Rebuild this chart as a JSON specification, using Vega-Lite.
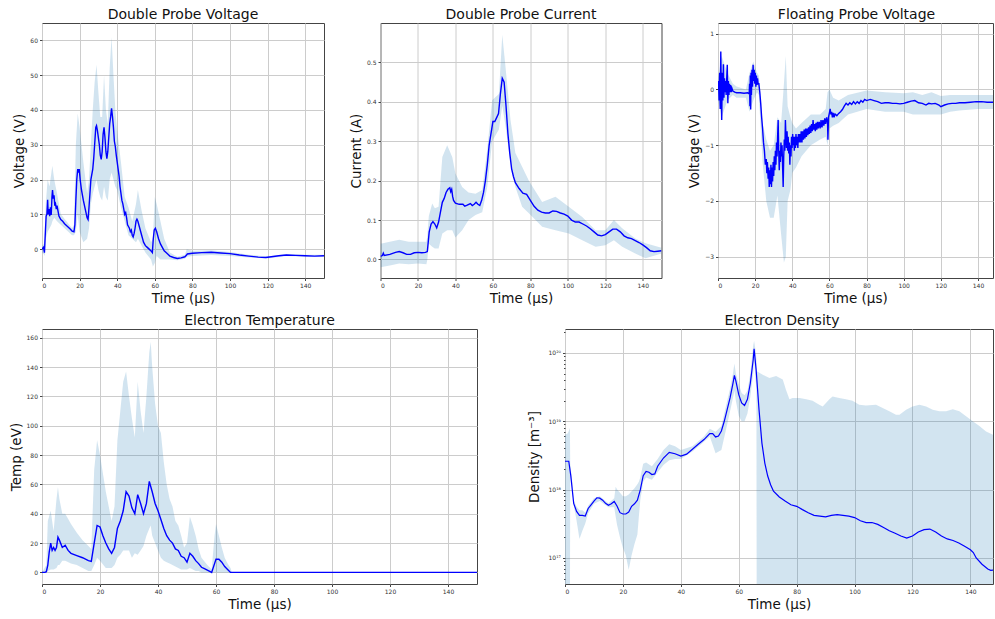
{
"$schema": "https://vega.github.io/schema/vega-lite/v6.json",
"background": "white",
"padding": {"left": 8, "top": 7, "right": 0, "bottom": 0},
"config": {
  "font": "DejaVu Sans",
  "view": {"stroke": "#444", "strokeWidth": 1},
  "axis": {"domain": false, "grid": true, "gridColor": "#cccccc", "gridWidth": 1, "tickColor": "#444", "tickSize": 2.5, "labelFontSize": 6, "labelColor": "#333", "labelPadding": 2, "labelOverlap": false, "titleFontSize": 13.5, "titleFontWeight": "normal", "titleColor": "#111", "titlePadding": 3},
  "title": {"fontSize": 14, "fontWeight": "normal", "offset": 1, "frame": "group", "color": "#111"}
},
"datasets": {
  "p1l": [{"t":0,"v":0},{"t":0.8,"v":0.5},{"t":1.3,"v":-1},{"t":1.8,"v":5},{"t":2.2,"v":9.5},{"t":2.6,"v":10},{"t":3,"v":14.2},{"t":3.3,"v":10},{"t":3.7,"v":11.5},{"t":4.1,"v":9.5},{"t":4.5,"v":12},{"t":4.9,"v":9.8},{"t":5.3,"v":15},{"t":5.6,"v":17},{"t":6,"v":14.5},{"t":6.4,"v":15.5},{"t":6.8,"v":12.5},{"t":7.2,"v":13},{"t":7.6,"v":11.5},{"t":8,"v":12.5},{"t":8.5,"v":11},{"t":9,"v":9.5},{"t":10,"v":8.5},{"t":11,"v":8},{"t":12,"v":7.3},{"t":13,"v":6.8},{"t":14,"v":6.3},{"t":15,"v":5.8},{"t":16,"v":5.2},{"t":17,"v":5},{"t":17.5,"v":7},{"t":18,"v":14},{"t":18.5,"v":20},{"t":19,"v":23},{"t":19.4,"v":22},{"t":19.8,"v":23},{"t":20.3,"v":20},{"t":21,"v":17},{"t":22,"v":14},{"t":23,"v":11.5},{"t":24,"v":9},{"t":24.5,"v":8.5},{"t":25,"v":12},{"t":25.5,"v":16},{"t":26,"v":20},{"t":27,"v":23},{"t":27.5,"v":26},{"t":28,"v":30},{"t":28.6,"v":35},{"t":29,"v":35.5},{"t":29.5,"v":34},{"t":30,"v":32},{"t":30.5,"v":30},{"t":31,"v":27},{"t":31.5,"v":25.8},{"t":32,"v":28},{"t":32.5,"v":33},{"t":33,"v":35},{"t":33.5,"v":32},{"t":34,"v":28},{"t":34.5,"v":26},{"t":35,"v":28},{"t":35.5,"v":32},{"t":36,"v":36},{"t":36.5,"v":38},{"t":37,"v":40.5},{"t":37.5,"v":38},{"t":38,"v":35},{"t":38.5,"v":31},{"t":39,"v":29.5},{"t":39.5,"v":27},{"t":40,"v":25},{"t":40.5,"v":23},{"t":41,"v":21},{"t":41.5,"v":18},{"t":42,"v":16},{"t":42.5,"v":14},{"t":43,"v":13},{"t":43.5,"v":11.5},{"t":44,"v":10},{"t":44.5,"v":10.5},{"t":45,"v":9},{"t":45.5,"v":7},{"t":46,"v":6.5},{"t":46.5,"v":6},{"t":47,"v":5},{"t":47.5,"v":5.5},{"t":48,"v":4},{"t":48.5,"v":3.5},{"t":49,"v":4.5},{"t":49.5,"v":6},{"t":50,"v":8},{"t":50.5,"v":8.6},{"t":51,"v":8},{"t":51.5,"v":7},{"t":52,"v":6},{"t":52.5,"v":5},{"t":53,"v":4},{"t":53.5,"v":3},{"t":54,"v":2},{"t":55,"v":1},{"t":56,"v":0.5},{"t":57,"v":0},{"t":58,"v":-0.5},{"t":58.7,"v":-1},{"t":59.2,"v":3},{"t":59.7,"v":5.5},{"t":60.3,"v":6},{"t":61,"v":5},{"t":61.5,"v":4},{"t":62,"v":3},{"t":63,"v":1.5},{"t":64,"v":0.5},{"t":65,"v":-0.5},{"t":66,"v":-1},{"t":67,"v":-1.5},{"t":68,"v":-2},{"t":70,"v":-2.4},{"t":72,"v":-2.7},{"t":74,"v":-2.5},{"t":76,"v":-2.2},{"t":76.8,"v":-1.8},{"t":77.3,"v":-1.4},{"t":80,"v":-1.2},{"t":85,"v":-1.0},{"t":90,"v":-0.9},{"t":95,"v":-1.1},{"t":100,"v":-1.3},{"t":105,"v":-1.7},{"t":110,"v":-2.0},{"t":115,"v":-2.3},{"t":119,"v":-2.4},{"t":122,"v":-2.2},{"t":126,"v":-1.9},{"t":130,"v":-1.7},{"t":135,"v":-1.8},{"t":140,"v":-1.9},{"t":145,"v":-2.0},{"t":150,"v":-1.9}],
  "p1b": [{"t":0,"lo":-1,"hi":1},{"t":1,"lo":-1.5,"hi":1.5},{"t":1.5,"lo":-2,"hi":3},{"t":2,"lo":3,"hi":13},{"t":3,"lo":5,"hi":20},{"t":4,"lo":6,"hi":18},{"t":5,"lo":7,"hi":22},{"t":5.5,"lo":8,"hi":24},{"t":6.5,"lo":9,"hi":20},{"t":8,"lo":8,"hi":16},{"t":10,"lo":7,"hi":10},{"t":13,"lo":5.5,"hi":8},{"t":16,"lo":4,"hi":6},{"t":17,"lo":4,"hi":7},{"t":18,"lo":5,"hi":30},{"t":19,"lo":10,"hi":39},{"t":20,"lo":5,"hi":35},{"t":22,"lo":2,"hi":25},{"t":24,"lo":3,"hi":16},{"t":25,"lo":6,"hi":20},{"t":26,"lo":13,"hi":30},{"t":27,"lo":16,"hi":40},{"t":28,"lo":18,"hi":48},{"t":29,"lo":20,"hi":53},{"t":30,"lo":17,"hi":45},{"t":31,"lo":15,"hi":38},{"t":32,"lo":14,"hi":38},{"t":33,"lo":18,"hi":50},{"t":34,"lo":15,"hi":40},{"t":35,"lo":14,"hi":36},{"t":36,"lo":20,"hi":52},{"t":37,"lo":22,"hi":61},{"t":38,"lo":20,"hi":50},{"t":39,"lo":18,"hi":40},{"t":40,"lo":17,"hi":34},{"t":42,"lo":12,"hi":25},{"t":44,"lo":8,"hi":15},{"t":46,"lo":4,"hi":12},{"t":48,"lo":3,"hi":8},{"t":50,"lo":2,"hi":13},{"t":51,"lo":3,"hi":17},{"t":53,"lo":1,"hi":11},{"t":55,"lo":-1,"hi":6},{"t":58,"lo":-3,"hi":2},{"t":59,"lo":-5,"hi":3},{"t":60,"lo":-4,"hi":15},{"t":61,"lo":-2,"hi":13},{"t":63,"lo":-3,"hi":8},{"t":65,"lo":-3,"hi":3},{"t":68,"lo":-3,"hi":-1},{"t":72,"lo":-3.2,"hi":-2.2},{"t":76,"lo":-2.8,"hi":-1.6},{"t":77,"lo":-2.2,"hi":0},{"t":80,"lo":-2,"hi":-0.5},{"t":90,"lo":-1.7,"hi":-0.3},{"t":100,"lo":-2,"hi":-0.8},{"t":110,"lo":-2.4,"hi":-1.6},{"t":120,"lo":-2.7,"hi":-2.1},{"t":130,"lo":-2,"hi":-1.4},{"t":140,"lo":-2.2,"hi":-1.6},{"t":150,"lo":-2.2,"hi":-1.6}],
  "p2l": [{"t":0,"v":0.008},{"t":1,"v":0.01},{"t":1.5,"v":0.016},{"t":2,"v":0.01},{"t":5,"v":0.013},{"t":8,"v":0.018},{"t":10,"v":0.02},{"t":12,"v":0.017},{"t":14,"v":0.013},{"t":16,"v":0.013},{"t":18,"v":0.017},{"t":20,"v":0.018},{"t":22,"v":0.017},{"t":24,"v":0.018},{"t":25,"v":0.02},{"t":26,"v":0.07},{"t":27,"v":0.09},{"t":28,"v":0.096},{"t":29,"v":0.09},{"t":30,"v":0.08},{"t":31,"v":0.095},{"t":32,"v":0.12},{"t":33,"v":0.145},{"t":34,"v":0.155},{"t":35,"v":0.17},{"t":36,"v":0.178},{"t":37,"v":0.182},{"t":37.5,"v":0.172},{"t":38,"v":0.178},{"t":38.5,"v":0.16},{"t":39,"v":0.15},{"t":40,"v":0.143},{"t":42,"v":0.14},{"t":44,"v":0.14},{"t":45,"v":0.135},{"t":46,"v":0.137},{"t":48,"v":0.142},{"t":49,"v":0.137},{"t":50,"v":0.14},{"t":51,"v":0.145},{"t":52,"v":0.14},{"t":53,"v":0.137},{"t":54,"v":0.15},{"t":55,"v":0.17},{"t":56,"v":0.2},{"t":57,"v":0.24},{"t":58,"v":0.29},{"t":59,"v":0.32},{"t":60,"v":0.35},{"t":61,"v":0.35},{"t":62,"v":0.36},{"t":63,"v":0.37},{"t":64,"v":0.42},{"t":65,"v":0.46},{"t":66,"v":0.45},{"t":67,"v":0.39},{"t":68,"v":0.32},{"t":69,"v":0.27},{"t":70,"v":0.23},{"t":71,"v":0.21},{"t":72,"v":0.195},{"t":74,"v":0.18},{"t":76,"v":0.168},{"t":78,"v":0.165},{"t":80,"v":0.15},{"t":82,"v":0.135},{"t":84,"v":0.125},{"t":86,"v":0.12},{"t":88,"v":0.118},{"t":90,"v":0.118},{"t":92,"v":0.123},{"t":94,"v":0.122},{"t":96,"v":0.118},{"t":98,"v":0.115},{"t":100,"v":0.11},{"t":102,"v":0.1},{"t":104,"v":0.095},{"t":106,"v":0.095},{"t":108,"v":0.09},{"t":110,"v":0.085},{"t":112,"v":0.078},{"t":114,"v":0.07},{"t":116,"v":0.062},{"t":118,"v":0.06},{"t":120,"v":0.063},{"t":122,"v":0.07},{"t":124,"v":0.077},{"t":126,"v":0.077},{"t":128,"v":0.07},{"t":130,"v":0.06},{"t":132,"v":0.055},{"t":134,"v":0.053},{"t":136,"v":0.048},{"t":138,"v":0.043},{"t":140,"v":0.037},{"t":142,"v":0.03},{"t":144,"v":0.022},{"t":146,"v":0.02},{"t":148,"v":0.021},{"t":150,"v":0.022}],
  "p2b": [{"t":0,"lo":-0.02,"hi":0.04},{"t":5,"lo":-0.015,"hi":0.045},{"t":10,"lo":-0.01,"hi":0.05},{"t":15,"lo":-0.012,"hi":0.045},{"t":20,"lo":-0.01,"hi":0.045},{"t":24.5,"lo":-0.012,"hi":0.045},{"t":25,"lo":0.0,"hi":0.06},{"t":25.8,"lo":0.04,"hi":0.11},{"t":27.6,"lo":0.032,"hi":0.142},{"t":29,"lo":0.028,"hi":0.13},{"t":31,"lo":0.028,"hi":0.134},{"t":33,"lo":0.066,"hi":0.26},{"t":35.6,"lo":0.074,"hi":0.29},{"t":38.3,"lo":0.074,"hi":0.26},{"t":40,"lo":0.056,"hi":0.218},{"t":43.6,"lo":0.074,"hi":0.184},{"t":47,"lo":0.1,"hi":0.17},{"t":50.7,"lo":0.113,"hi":0.167},{"t":54.3,"lo":0.12,"hi":0.176},{"t":57,"lo":0.184,"hi":0.28},{"t":59.6,"lo":0.3,"hi":0.404},{"t":63.2,"lo":0.33,"hi":0.42},{"t":65,"lo":0.39,"hi":0.57},{"t":66.7,"lo":0.34,"hi":0.49},{"t":69.4,"lo":0.244,"hi":0.354},{"t":72,"lo":0.184,"hi":0.27},{"t":75.6,"lo":0.134,"hi":0.235},{"t":79.2,"lo":0.117,"hi":0.2},{"t":86.3,"lo":0.083,"hi":0.146},{"t":93.4,"lo":0.074,"hi":0.159},{"t":100.5,"lo":0.066,"hi":0.134},{"t":107.7,"lo":0.049,"hi":0.108},{"t":114.8,"lo":0.032,"hi":0.074},{"t":120,"lo":0.036,"hi":0.074},{"t":124.6,"lo":0.049,"hi":0.1},{"t":129,"lo":0.032,"hi":0.079},{"t":136,"lo":0.015,"hi":0.053},{"t":141.5,"lo":0.003,"hi":0.041},{"t":150,"lo":0.015,"hi":0.03}],
  "p3l": [{"t":0,"v":0},{"t":0.3,"v":0.15},{"t":0.6,"v":-0.2},{"t":0.9,"v":0.3},{"t":1.2,"v":-0.35},{"t":1.5,"v":0.68},{"t":1.8,"v":-0.1},{"t":2.0,"v":-0.55},{"t":2.3,"v":0.3},{"t":2.6,"v":-0.2},{"t":2.9,"v":0.45},{"t":3.2,"v":-0.15},{"t":3.5,"v":0.2},{"t":3.8,"v":-0.05},{"t":4.1,"v":0.15},{"t":4.4,"v":-0.1},{"t":4.7,"v":0.2},{"t":5.0,"v":0.44},{"t":5.3,"v":-0.25},{"t":5.6,"v":0.15},{"t":5.9,"v":-0.1},{"t":6.2,"v":0.1},{"t":6.5,"v":-0.05},{"t":6.8,"v":0.08},{"t":7.1,"v":-0.05},{"t":7.5,"v":0.02},{"t":8,"v":-0.03},{"t":9,"v":-0.05},{"t":10,"v":-0.06},{"t":12,"v":-0.06},{"t":14,"v":-0.07},{"t":16,"v":-0.06},{"t":16.8,"v":-0.08},{"t":17.0,"v":0.1},{"t":17.2,"v":-0.3},{"t":17.4,"v":0.25},{"t":17.6,"v":-0.36},{"t":17.8,"v":0.3},{"t":18.0,"v":-0.1},{"t":18.3,"v":0.35},{"t":18.6,"v":0.05},{"t":18.9,"v":0.44},{"t":19.2,"v":0.15},{"t":19.5,"v":0.35},{"t":19.8,"v":0.1},{"t":20.1,"v":0.3},{"t":20.4,"v":0.05},{"t":20.7,"v":0.25},{"t":21.0,"v":0.08},{"t":21.3,"v":0.2},{"t":21.6,"v":0.1},{"t":22.0,"v":0.1},{"t":22.5,"v":-0.05},{"t":23,"v":-0.25},{"t":23.5,"v":-0.5},{"t":24,"v":-0.7},{"t":24.5,"v":-0.95},{"t":25,"v":-1.1},{"t":25.5,"v":-1.35},{"t":26,"v":-1.25},{"t":26.3,"v":-1.5},{"t":26.6,"v":-1.3},{"t":27,"v":-1.6},{"t":27.3,"v":-1.4},{"t":27.6,"v":-1.75},{"t":27.9,"v":-1.45},{"t":28.2,"v":-1.7},{"t":28.5,"v":-1.35},{"t":28.8,"v":-1.75},{"t":29.1,"v":-1.4},{"t":29.4,"v":-1.65},{"t":29.7,"v":-1.3},{"t":30.0,"v":-1.55},{"t":30.3,"v":-1.2},{"t":30.6,"v":-1.45},{"t":30.9,"v":-1.1},{"t":31.2,"v":-1.35},{"t":31.5,"v":-0.95},{"t":31.8,"v":-1.2},{"t":32.1,"v":-0.85},{"t":32.4,"v":-0.55},{"t":32.7,"v":-1.1},{"t":33.0,"v":-1.45},{"t":33.3,"v":-1.1},{"t":33.6,"v":-1.3},{"t":33.9,"v":-0.95},{"t":34.2,"v":-1.2},{"t":34.5,"v":-1.0},{"t":34.8,"v":-1.4},{"t":35.1,"v":-1.75},{"t":35.4,"v":-1.2},{"t":35.7,"v":-0.9},{"t":36.0,"v":-1.1},{"t":36.3,"v":-0.55},{"t":36.6,"v":-0.85},{"t":36.9,"v":-1.05},{"t":37.2,"v":-0.75},{"t":37.5,"v":-1.1},{"t":37.8,"v":-0.85},{"t":38.1,"v":-1.15},{"t":38.4,"v":-0.95},{"t":38.7,"v":-1.35},{"t":39.0,"v":-1.0},{"t":39.3,"v":-1.2},{"t":39.6,"v":-0.85},{"t":39.9,"v":-1.05},{"t":40.2,"v":-0.8},{"t":40.5,"v":-1.0},{"t":40.8,"v":-0.85},{"t":41.1,"v":-1.1},{"t":41.4,"v":-0.85},{"t":41.7,"v":-1.05},{"t":42,"v":-0.8},{"t":42.3,"v":-1.0},{"t":42.6,"v":-0.85},{"t":43,"v":-1.05},{"t":43.3,"v":-0.8},{"t":43.6,"v":-0.95},{"t":44,"v":-0.8},{"t":44.4,"v":-0.95},{"t":44.8,"v":-0.75},{"t":45.2,"v":-0.95},{"t":45.6,"v":-0.75},{"t":46,"v":-0.9},{"t":46.4,"v":-0.72},{"t":46.8,"v":-0.88},{"t":47.2,"v":-0.7},{"t":47.6,"v":-0.85},{"t":48,"v":-0.7},{"t":48.4,"v":-0.82},{"t":48.8,"v":-0.68},{"t":49.2,"v":-0.8},{"t":49.6,"v":-0.65},{"t":50,"v":-0.78},{"t":50.4,"v":-0.62},{"t":50.8,"v":-0.75},{"t":51.2,"v":-0.55},{"t":51.6,"v":-0.72},{"t":52,"v":-0.62},{"t":52.4,"v":-0.75},{"t":52.8,"v":-0.6},{"t":53.2,"v":-0.72},{"t":53.6,"v":-0.58},{"t":54,"v":-0.7},{"t":54.5,"v":-0.58},{"t":55,"v":-0.7},{"t":55.5,"v":-0.55},{"t":56,"v":-0.68},{"t":56.5,"v":-0.55},{"t":57,"v":-0.65},{"t":57.5,"v":-0.52},{"t":58,"v":-0.62},{"t":58.5,"v":-0.5},{"t":59,"v":-0.6},{"t":59.2,"v":-0.9},{"t":59.5,"v":-0.5},{"t":60,"v":-0.42},{"t":60.4,"v":-0.35},{"t":60.8,"v":-0.45},{"t":61.2,"v":-0.4},{"t":61.6,"v":-0.5},{"t":62,"v":-0.42},{"t":62.5,"v":-0.5},{"t":63,"v":-0.44},{"t":64,"v":-0.47},{"t":65,"v":-0.43},{"t":66,"v":-0.4},{"t":67,"v":-0.36},{"t":68,"v":-0.3},{"t":69,"v":-0.25},{"t":70,"v":-0.28},{"t":71,"v":-0.24},{"t":72,"v":-0.27},{"t":73,"v":-0.22},{"t":74,"v":-0.26},{"t":75,"v":-0.22},{"t":76,"v":-0.25},{"t":77,"v":-0.2},{"t":78,"v":-0.23},{"t":79,"v":-0.18},{"t":80,"v":-0.2},{"t":82,"v":-0.18},{"t":84,"v":-0.2},{"t":86,"v":-0.22},{"t":88,"v":-0.25},{"t":90,"v":-0.24},{"t":92,"v":-0.24},{"t":94,"v":-0.25},{"t":96,"v":-0.25},{"t":98,"v":-0.26},{"t":100,"v":-0.25},{"t":102,"v":-0.23},{"t":104,"v":-0.21},{"t":106,"v":-0.2},{"t":108,"v":-0.24},{"t":110,"v":-0.25},{"t":112,"v":-0.28},{"t":113.5,"v":-0.25},{"t":115,"v":-0.26},{"t":117,"v":-0.25},{"t":119,"v":-0.28},{"t":120,"v":-0.31},{"t":122,"v":-0.28},{"t":124,"v":-0.26},{"t":126,"v":-0.25},{"t":128,"v":-0.25},{"t":130,"v":-0.24},{"t":133,"v":-0.24},{"t":136,"v":-0.23},{"t":139,"v":-0.22},{"t":142,"v":-0.22},{"t":145,"v":-0.23},{"t":148.6,"v":-0.23}],
  "p3b": [{"t":0,"lo":-0.2,"hi":0.2},{"t":2,"lo":-0.5,"hi":0.6},{"t":5,"lo":-0.2,"hi":0.3},{"t":8,"lo":-0.1,"hi":0.1},{"t":10,"lo":-0.15,"hi":0.05},{"t":15,"lo":-0.15,"hi":0.0},{"t":17,"lo":-0.4,"hi":0.3},{"t":19,"lo":-0.2,"hi":0.5},{"t":21,"lo":-0.05,"hi":0.3},{"t":22,"lo":-0.1,"hi":0.25},{"t":24,"lo":-1.3,"hi":-0.6},{"t":26,"lo":-2.0,"hi":-0.9},{"t":28,"lo":-2.3,"hi":-1.1},{"t":30,"lo":-2.3,"hi":-1.0},{"t":32,"lo":-1.9,"hi":-0.5},{"t":34,"lo":-2.6,"hi":-0.6},{"t":35.5,"lo":-3.1,"hi":0.1},{"t":36.5,"lo":-3.0,"hi":0.6},{"t":37.5,"lo":-2.0,"hi":-0.3},{"t":39,"lo":-1.8,"hi":-0.5},{"t":40,"lo":-1.5,"hi":-0.6},{"t":42,"lo":-1.4,"hi":-0.7},{"t":45,"lo":-1.2,"hi":-0.6},{"t":50,"lo":-1.0,"hi":-0.45},{"t":55,"lo":-0.9,"hi":-0.45},{"t":58,"lo":-0.85,"hi":-0.35},{"t":59,"lo":-1.0,"hi":-0.05},{"t":60,"lo":-0.7,"hi":0.0},{"t":62,"lo":-0.65,"hi":-0.15},{"t":65,"lo":-0.6,"hi":-0.2},{"t":70,"lo":-0.45,"hi":-0.1},{"t":80,"lo":-0.35,"hi":-0.02},{"t":90,"lo":-0.4,"hi":-0.05},{"t":100,"lo":-0.4,"hi":-0.07},{"t":105,"lo":-0.45,"hi":-0.05},{"t":110,"lo":-0.45,"hi":-0.1},{"t":115,"lo":-0.45,"hi":-0.05},{"t":120,"lo":-0.45,"hi":-0.12},{"t":125,"lo":-0.4,"hi":-0.1},{"t":130,"lo":-0.38,"hi":-0.1},{"t":140,"lo":-0.35,"hi":-0.1},{"t":148.6,"lo":-0.35,"hi":-0.1}],
  "p4l": [{"t":0,"v":0},{"t":1,"v":0},{"t":1.5,"v":0.5},{"t":2,"v":5},{"t":2.5,"v":14},{"t":3,"v":20},{"t":3.5,"v":15},{"t":4,"v":17},{"t":4.5,"v":15},{"t":5,"v":17},{"t":5.5,"v":24},{"t":6,"v":22},{"t":7,"v":17},{"t":8,"v":18.5},{"t":9,"v":15},{"t":10,"v":13},{"t":12,"v":11.5},{"t":14,"v":10},{"t":16,"v":8},{"t":17,"v":7.5},{"t":18,"v":20},{"t":19,"v":32},{"t":20,"v":31},{"t":21,"v":25},{"t":22,"v":20},{"t":23,"v":16},{"t":24,"v":13},{"t":25,"v":17},{"t":26,"v":30},{"t":27,"v":35},{"t":28,"v":42},{"t":29,"v":55},{"t":30,"v":52},{"t":31,"v":44},{"t":32,"v":40},{"t":33,"v":53},{"t":34,"v":47},{"t":35,"v":40},{"t":36,"v":47},{"t":37,"v":62},{"t":38,"v":55},{"t":39,"v":47},{"t":40,"v":42},{"t":41,"v":36},{"t":42,"v":30},{"t":43,"v":25},{"t":44,"v":22},{"t":45,"v":20},{"t":46,"v":16},{"t":47,"v":15},{"t":48,"v":11},{"t":49,"v":10},{"t":50,"v":7},{"t":51,"v":13},{"t":52,"v":11},{"t":53,"v":8},{"t":54,"v":6},{"t":55,"v":3.5},{"t":56,"v":2.5},{"t":57,"v":1.5},{"t":58,"v":0.5},{"t":58.5,"v":0},{"t":59.5,"v":6},{"t":60,"v":9},{"t":61,"v":9},{"t":62,"v":7},{"t":63,"v":4},{"t":64,"v":2},{"t":65,"v":0},{"t":150,"v":0}],
  "p4b": [{"t":0,"lo":0,"hi":0},{"t":1.5,"lo":0,"hi":5},{"t":2,"lo":1,"hi":35},{"t":3,"lo":2,"hi":42},{"t":4,"lo":2,"hi":28},{"t":5,"lo":3,"hi":50},{"t":5.5,"lo":5,"hi":58},{"t":6,"lo":5,"hi":50},{"t":7,"lo":8,"hi":40},{"t":8,"lo":8,"hi":40},{"t":10,"lo":6,"hi":33},{"t":12,"lo":5,"hi":27},{"t":14,"lo":3,"hi":22},{"t":16,"lo":1,"hi":18},{"t":17,"lo":1,"hi":16},{"t":18,"lo":5,"hi":70},{"t":19,"lo":10,"hi":90},{"t":20,"lo":8,"hi":80},{"t":22,"lo":3,"hi":55},{"t":24,"lo":3,"hi":35},{"t":25,"lo":5,"hi":45},{"t":26,"lo":10,"hi":90},{"t":27,"lo":12,"hi":110},{"t":28,"lo":15,"hi":130},{"t":29,"lo":15,"hi":137},{"t":30,"lo":15,"hi":120},{"t":31,"lo":10,"hi":105},{"t":32,"lo":13,"hi":92},{"t":33,"lo":12,"hi":130},{"t":34,"lo":15,"hi":110},{"t":35,"lo":18,"hi":95},{"t":36,"lo":25,"hi":120},{"t":37,"lo":30,"hi":150},{"t":37.5,"lo":32,"hi":157},{"t":38,"lo":25,"hi":140},{"t":39,"lo":20,"hi":115},{"t":40,"lo":15,"hi":100},{"t":41,"lo":10,"hi":95},{"t":42,"lo":8,"hi":75},{"t":43,"lo":7,"hi":60},{"t":44,"lo":6,"hi":50},{"t":45,"lo":5,"hi":45},{"t":46,"lo":4,"hi":35},{"t":47,"lo":3,"hi":32},{"t":48,"lo":2,"hi":25},{"t":49,"lo":2,"hi":17},{"t":50,"lo":2,"hi":20},{"t":51,"lo":3,"hi":38},{"t":52,"lo":2,"hi":32},{"t":53,"lo":1,"hi":25},{"t":54,"lo":1,"hi":16},{"t":55,"lo":0,"hi":10},{"t":57,"lo":0,"hi":5},{"t":58.5,"lo":0,"hi":2},{"t":59.5,"lo":0,"hi":25},{"t":60,"lo":0,"hi":33},{"t":61,"lo":0,"hi":25},{"t":62,"lo":0,"hi":17},{"t":63,"lo":0,"hi":10},{"t":64,"lo":0,"hi":6},{"t":65,"lo":0,"hi":3},{"t":65.5,"lo":0,"hi":0},{"t":150,"lo":0,"hi":0}],
  "p5l": [{"t":0,"v":2.6e18},{"t":1.3,"v":2.6e18},{"t":2,"v":1.6e18},{"t":3,"v":6.3e17},{"t":4,"v":4.8e17},{"t":5,"v":4.2e17},{"t":6,"v":4.2e17},{"t":7,"v":4.1e17},{"t":8,"v":5.3e17},{"t":9,"v":6.0e17},{"t":10,"v":6.8e17},{"t":11,"v":7.6e17},{"t":12,"v":7.5e17},{"t":13,"v":7e17},{"t":14,"v":6.3e17},{"t":15,"v":5.9e17},{"t":16,"v":6.2e17},{"t":17,"v":6.7e17},{"t":18,"v":5.7e17},{"t":19,"v":4.6e17},{"t":20,"v":4.4e17},{"t":21,"v":4.4e17},{"t":22,"v":4.7e17},{"t":23,"v":5.7e17},{"t":24,"v":6.2e17},{"t":25,"v":7e17},{"t":26,"v":9.9e17},{"t":27,"v":1.6e18},{"t":28,"v":1.85e18},{"t":29,"v":1.8e18},{"t":30,"v":1.66e18},{"t":31,"v":1.7e18},{"t":32,"v":2.2e18},{"t":34,"v":2.9e18},{"t":36,"v":3.5e18},{"t":38,"v":3.35e18},{"t":40,"v":3.1e18},{"t":42,"v":3.3e18},{"t":44,"v":3.9e18},{"t":46,"v":4.6e18},{"t":48,"v":5.4e18},{"t":50,"v":6.6e18},{"t":51,"v":6.6e18},{"t":52,"v":5.9e18},{"t":53,"v":6.1e18},{"t":54,"v":7.2e18},{"t":55,"v":1e19},{"t":56,"v":1.48e19},{"t":57,"v":2.2e19},{"t":58,"v":3.6e19},{"t":58.5,"v":4.7e19},{"t":59,"v":3.9e19},{"t":60,"v":2.45e19},{"t":61,"v":1.85e19},{"t":62,"v":1.7e19},{"t":63,"v":2.1e19},{"t":64,"v":3.6e19},{"t":65,"v":8e19},{"t":65.3,"v":1.15e20},{"t":66,"v":5.7e19},{"t":67,"v":1.48e19},{"t":68,"v":4.8e18},{"t":69,"v":2.45e18},{"t":70,"v":1.58e18},{"t":71,"v":1.18e18},{"t":72,"v":9.5e17},{"t":74,"v":7.8e17},{"t":76,"v":6.8e17},{"t":78,"v":6e17},{"t":80,"v":5.7e17},{"t":82,"v":5.1e17},{"t":84,"v":4.6e17},{"t":86,"v":4.2e17},{"t":88,"v":4.1e17},{"t":90,"v":4.0e17},{"t":92,"v":4.2e17},{"t":94,"v":4.3e17},{"t":96,"v":4.2e17},{"t":98,"v":4.1e17},{"t":100,"v":3.9e17},{"t":102,"v":3.5e17},{"t":104,"v":3.3e17},{"t":106,"v":3.3e17},{"t":108,"v":3.1e17},{"t":110,"v":2.8e17},{"t":112,"v":2.5e17},{"t":114,"v":2.3e17},{"t":116,"v":2.1e17},{"t":118,"v":1.95e17},{"t":120,"v":2.1e17},{"t":122,"v":2.4e17},{"t":124,"v":2.6e17},{"t":126,"v":2.65e17},{"t":128,"v":2.4e17},{"t":130,"v":2.1e17},{"t":132,"v":1.9e17},{"t":134,"v":1.8e17},{"t":136,"v":1.66e17},{"t":138,"v":1.48e17},{"t":140,"v":1.32e17},{"t":141,"v":1.2e17},{"t":142,"v":1e17},{"t":144,"v":8.1e16},{"t":146,"v":6.9e16},{"t":147,"v":6.6e16},{"t":148.5,"v":6.7e16}],
  "p5b": [{"t":0,"lo":1e16,"hi":6.3e18},{"t":1,"lo":1e16,"hi":6.7e18},{"t":1.7,"lo":1e16,"hi":8e18},{"t":1.8,"lo":1.6e18,"hi":2.4e18},{"t":2.5,"lo":1e18,"hi":1.3e18},{"t":3,"lo":6e17,"hi":7e17},{"t":4,"lo":3.5e17,"hi":5.6e17},{"t":5,"lo":1.9e17,"hi":5e17},{"t":6,"lo":2.5e17,"hi":5e17},{"t":7,"lo":3.2e17,"hi":4.6e17},{"t":8,"lo":4.5e17,"hi":5.8e17},{"t":10,"lo":6.2e17,"hi":7.5e17},{"t":12,"lo":6.8e17,"hi":8e17},{"t":15,"lo":5.5e17,"hi":6.3e17},{"t":17,"lo":5.5e17,"hi":7.5e17},{"t":17.5,"lo":4e17,"hi":1.1e18},{"t":18,"lo":3e17,"hi":1.0e18},{"t":19,"lo":2e17,"hi":9e17},{"t":20,"lo":1.4e17,"hi":8e17},{"t":21,"lo":1.1e17,"hi":8e17},{"t":22,"lo":6.7e16,"hi":8.5e17},{"t":23,"lo":1.1e17,"hi":9.5e17},{"t":24,"lo":1.6e17,"hi":1.05e18},{"t":25,"lo":2.2e17,"hi":1.2e18},{"t":25.5,"lo":4e17,"hi":1.3e18},{"t":26,"lo":7e17,"hi":1.5e18},{"t":27,"lo":1.3e18,"hi":2.4e18},{"t":28,"lo":1.5e18,"hi":2.5e18},{"t":30,"lo":1.4e18,"hi":2.2e18},{"t":32,"lo":1.8e18,"hi":2.8e18},{"t":34,"lo":2.3e18,"hi":3.8e18},{"t":36,"lo":2.7e18,"hi":4.6e18},{"t":38,"lo":2.8e18,"hi":4.3e18},{"t":40,"lo":2.8e18,"hi":3.8e18},{"t":44,"lo":3.6e18,"hi":4.3e18},{"t":48,"lo":5e18,"hi":6e18},{"t":50,"lo":6e18,"hi":7.8e18},{"t":52,"lo":3.4e18,"hi":7e18},{"t":54,"lo":3.8e18,"hi":8.5e18},{"t":56,"lo":9e18,"hi":2e19},{"t":57,"lo":1.4e19,"hi":3e19},{"t":58,"lo":2.2e19,"hi":5e19},{"t":58.5,"lo":2.8e19,"hi":7e19},{"t":59,"lo":2e19,"hi":5e19},{"t":60,"lo":1.2e19,"hi":3.5e19},{"t":61,"lo":1e19,"hi":2.6e19},{"t":62,"lo":1e19,"hi":2.4e19},{"t":63,"lo":1.3e19,"hi":2.8e19},{"t":64,"lo":2.3e19,"hi":5e19},{"t":65,"lo":5e19,"hi":1.3e20},{"t":65.3,"lo":8e19,"hi":1.5e20},{"t":65.8,"lo":4e19,"hi":1.1e20},{"t":66.1,"lo":3e19,"hi":8e19},{"t":66.2,"lo":1e16,"hi":5.4e19},{"t":68.3,"lo":1e16,"hi":4.8e19},{"t":70.6,"lo":1e16,"hi":4.3e19},{"t":72.9,"lo":1e16,"hi":4.6e19},{"t":75.2,"lo":1e16,"hi":4.1e19},{"t":76.3,"lo":1e16,"hi":2.9e19},{"t":77.5,"lo":1e16,"hi":2.1e19},{"t":78.6,"lo":1e16,"hi":2.2e19},{"t":81,"lo":1e16,"hi":2.2e19},{"t":83.3,"lo":1e16,"hi":2.1e19},{"t":85.5,"lo":1e16,"hi":2e19},{"t":87.8,"lo":1e16,"hi":1.75e19},{"t":89,"lo":1e16,"hi":1.65e19},{"t":91.3,"lo":1e16,"hi":2.1e19},{"t":92.4,"lo":1e16,"hi":2.3e19},{"t":94.7,"lo":1e16,"hi":2.2e19},{"t":97,"lo":1e16,"hi":2.1e19},{"t":99.3,"lo":1e16,"hi":2e19},{"t":101.6,"lo":1e16,"hi":1.75e19},{"t":103.9,"lo":1e16,"hi":1.7e19},{"t":107.4,"lo":1e16,"hi":1.75e19},{"t":109.7,"lo":1e16,"hi":1.57e19},{"t":112,"lo":1e16,"hi":1.4e19},{"t":114.3,"lo":1e16,"hi":1.25e19},{"t":115.5,"lo":1e16,"hi":1.25e19},{"t":117.8,"lo":1e16,"hi":1.48e19},{"t":120,"lo":1e16,"hi":1.65e19},{"t":122.4,"lo":1e16,"hi":1.75e19},{"t":124.7,"lo":1e16,"hi":1.65e19},{"t":127,"lo":1e16,"hi":1.48e19},{"t":129.3,"lo":1e16,"hi":1.4e19},{"t":131.6,"lo":1e16,"hi":1.4e19},{"t":133.9,"lo":1e16,"hi":1.5e19},{"t":136.2,"lo":1e16,"hi":1.4e19},{"t":138.5,"lo":1e16,"hi":1.18e19},{"t":140.8,"lo":1e16,"hi":1e19},{"t":143.1,"lo":1e16,"hi":8.5e18},{"t":145.4,"lo":1e16,"hi":7.1e18},{"t":148.3,"lo":1e16,"hi":6.2e18}]
},
"vconcat": [
  {
    "hconcat": [
      {
        "width": 282, "height": 255,
        "title": "Double Probe Voltage",
        "encoding": {"x": {"field": "t", "type": "quantitative", "title": "Time (μs)", "scale": {"domain": [0, 150], "nice": false}, "axis": {"values": [0,20,40,60,80,100,120,140], "format": "d"}}},
        "layer": [
          {"data": {"name": "p1b"}, "mark": {"type": "area", "color": "#1f77b4", "opacity": 0.2, "clip": true}, "encoding": {"y": {"field": "lo", "type": "quantitative", "title": "Voltage (V)", "scale": {"domain": [-8.3, 65], "nice": false, "zero": false}, "axis": {"values": [0,10,20,30,40,50,60], "format": "d"}}, "y2": {"field": "hi"}}},
          {"data": {"name": "p1l"}, "mark": {"type": "line", "color": "#0000ff", "strokeWidth": 1.4, "clip": true}, "encoding": {"y": {"field": "v", "type": "quantitative", "title": "Voltage (V)", "axis": {"values": [0,10,20,30,40,50,60], "format": "d"}}}}
        ]
      },
      {
        "width": 281, "height": 255,
        "title": "Double Probe Current",
        "encoding": {"x": {"field": "t", "type": "quantitative", "title": "Time (μs)", "scale": {"domain": [0, 150], "nice": false}, "axis": {"values": [0,20,40,60,80,100,120,140], "format": "d"}}},
        "layer": [
          {"data": {"name": "p2b"}, "mark": {"type": "area", "color": "#1f77b4", "opacity": 0.2, "clip": true}, "encoding": {"y": {"field": "lo", "type": "quantitative", "title": "Current (A)", "scale": {"domain": [-0.047, 0.6], "nice": false, "zero": false}, "axis": {"values": [0,0.1,0.2,0.3,0.4,0.5], "format": ".1f"}}, "y2": {"field": "hi"}}},
          {"data": {"name": "p2l"}, "mark": {"type": "line", "color": "#0000ff", "strokeWidth": 1.4, "clip": true}, "encoding": {"y": {"field": "v", "type": "quantitative", "title": "Current (A)", "axis": {"values": [0,0.1,0.2,0.3,0.4,0.5], "format": ".1f"}}}}
        ]
      },
      {
        "width": 275, "height": 255,
        "title": {"text": "Floating Probe Voltage", "dx": 1},
        "encoding": {"x": {"field": "t", "type": "quantitative", "title": "Time (μs)", "scale": {"domain": [0, 148.1], "nice": false}, "axis": {"values": [0,20,40,60,80,100,120,140], "format": "d"}}},
        "layer": [
          {"data": {"name": "p3b"}, "mark": {"type": "area", "color": "#1f77b4", "opacity": 0.2, "clip": true}, "encoding": {"y": {"field": "lo", "type": "quantitative", "title": "Voltage (V)", "scale": {"domain": [-3.38, 1.19], "nice": false, "zero": false}, "axis": {"values": [-3,-2,-1,0,1], "labelExpr": "replace(format(datum.value, 'd'), '-', '−')"}}, "y2": {"field": "hi"}}},
          {"data": {"name": "p3l"}, "mark": {"type": "line", "color": "#0000ff", "strokeWidth": 1.4, "clip": true}, "encoding": {"y": {"field": "v", "type": "quantitative", "title": "Voltage (V)", "axis": {"values": [-3,-2,-1,0,1], "labelExpr": "replace(format(datum.value, 'd'), '-', '−')"}}}}
        ]
      }
    ],
    "spacing": 56.5,
    "bounds": "flush"
  },
  {
    "hconcat": [
      {
        "width": 435, "height": 255,
        "title": "Electron Temperature",
        "encoding": {"x": {"field": "t", "type": "quantitative", "title": "Time (μs)", "scale": {"domain": [0, 150], "nice": false}, "axis": {"values": [0,20,40,60,80,100,120,140], "format": "d"}}},
        "layer": [
          {"data": {"name": "p4b"}, "mark": {"type": "area", "color": "#1f77b4", "opacity": 0.2, "clip": true}, "encoding": {"y": {"field": "lo", "type": "quantitative", "title": "Temp (eV)", "scale": {"domain": [-7.9, 165.9], "nice": false, "zero": false}, "axis": {"values": [0,20,40,60,80,100,120,140,160], "format": "d"}}, "y2": {"field": "hi"}}},
          {"data": {"name": "p4l"}, "mark": {"type": "line", "color": "#0000ff", "strokeWidth": 1.4, "clip": true}, "encoding": {"y": {"field": "v", "type": "quantitative", "title": "Temp (eV)", "axis": {"values": [0,20,40,60,80,100,120,140,160], "format": "d"}}}}
        ]
      },
      {
        "width": 428, "height": 255,
        "title": {"text": "Electron Density", "dx": 3},
        "encoding": {"x": {"field": "t", "type": "quantitative", "title": "Time (μs)", "scale": {"domain": [0, 147.8], "nice": false}, "axis": {"values": [0,20,40,60,80,100,120,140], "format": "d"}}},
        "layer": [
          {"data": {"name": "p5b"}, "mark": {"type": "area", "color": "#1f77b4", "opacity": 0.2, "clip": true}, "encoding": {"y": {"field": "lo", "type": "quantitative", "title": "Density [m⁻³]", "scale": {"type": "log", "domain": [4.16e16, 2.24e20], "nice": false}, "axis": {
            "titlePadding": 7,
            "values": [5e16,6e16,7e16,8e16,9e16,1e17,2e17,3e17,4e17,5e17,6e17,7e17,8e17,9e17,1e18,2e18,3e18,4e18,5e18,6e18,7e18,8e18,9e18,1e19,2e19,3e19,4e19,5e19,6e19,7e19,8e19,9e19,1e20,2e20],
            "labelExpr": "abs(log(datum.value)/LN10 - round(log(datum.value)/LN10)) > 0.01 ? '' : round(log(datum.value)/LN10) == 17 ? '10¹⁷' : round(log(datum.value)/LN10) == 18 ? '10¹⁸' : round(log(datum.value)/LN10) == 19 ? '10¹⁹' : '10²⁰'",
            "gridOpacity": {"condition": {"test": "abs(log(datum.value)/LN10 - round(log(datum.value)/LN10)) < 0.01", "value": 1}, "value": 0},
            "tickSize": {"condition": {"test": "abs(log(datum.value)/LN10 - round(log(datum.value)/LN10)) < 0.01", "value": 2.5}, "value": 1.5}
          }}, "y2": {"field": "hi"}}},
          {"data": {"name": "p5l"}, "mark": {"type": "line", "color": "#0000ff", "strokeWidth": 1.2, "clip": true}, "encoding": {"y": {"field": "v", "type": "quantitative", "title": "Density [m⁻³]"}}}
        ]
      }
    ],
    "spacing": 88,
    "bounds": "flush"
  }
],
"spacing": 7
}
